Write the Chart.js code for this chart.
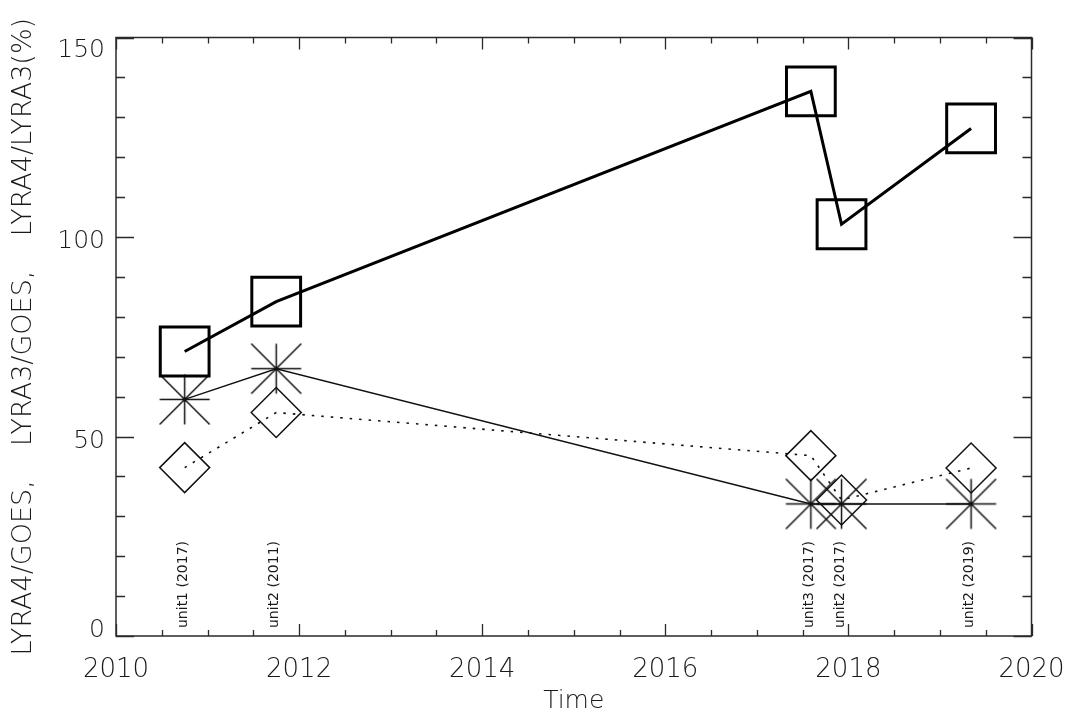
<!DOCTYPE html>
<html>
<head>
<meta charset="utf-8">
<script src="https://cdn.jsdelivr.net/npm/chart.js@4/dist/chart.umd.min.js"></script>
<style>
  html, body { margin: 0; padding: 0; background: #fff; }
  canvas { display: block; }
</style>
</head>
<body>
<canvas id="c" width="1069" height="712"></canvas>
<script>
// Observation dates (decimal years) and the unit / calibration year of each campaign
const years = [2010.75, 2011.75, 2017.59, 2017.925, 2019.34];
const unitLabels = ['unit1 (2017)', 'unit2 (2011)', 'unit3 (2017)', 'unit2 (2017)', 'unit2 (2019)'];

// Ratios in percent
const lyra4OverLyra3 = [71.3, 83.8, 136.5, 103.2, 127.2];
const lyra4OverGoes = [59.3, 67.0, 33.1, 33.1, 33.1];
const lyra3OverGoes = [42.2, 56.0, 45.2, 34.1, 42.1];

// Axis ticks
const xMajorTicks = [2010, 2012, 2014, 2016, 2018, 2020];
const xTickLabels = ['2010', '2012', '2014', '2016', '2018', '2020'];
const xMinorStep = 0.5;
const yMajorTicks = [0, 50, 100, 150];
const yTickLabels = ['0', '50', '100', '150'];
const yMinorStep = 10;

const INK = '#111';
const TEXT = '#1a1a1a';
const FONT = '"DejaVu Sans", "Liberation Sans", sans-serif';
const WEIGHT = '200';

const toPoints = vals => years.map((yr, i) => ({ x: yr, y: vals[i] }));

// Eight-armed asterisk marker
function makeAsterisk(arm, width) {
  const size = Math.ceil(arm * 2 + width * 2);
  const cv = document.createElement('canvas');
  cv.width = size; cv.height = size;
  const g = cv.getContext('2d');
  const c = size / 2;
  g.strokeStyle = INK;
  g.lineWidth = width;
  g.beginPath();
  g.moveTo(c - arm, c); g.lineTo(c + arm, c);
  g.moveTo(c, c - arm); g.lineTo(c, c + arm);
  g.moveTo(c - arm, c - arm); g.lineTo(c + arm, c + arm);
  g.moveTo(c - arm, c + arm); g.lineTo(c + arm, c - arm);
  g.stroke();
  return cv;
}
const asterisk = makeAsterisk(25, 1.5);

// Box frame with inward ticks on all four sides, tick labels and unit annotations
const framePlugin = {
  id: 'frame',
  afterDraw(chart) {
    const { ctx, chartArea: a, scales: { x, y } } = chart;
    ctx.save();
    ctx.strokeStyle = '#2a2a2a';
    ctx.lineWidth = 1.5;
    ctx.strokeRect(a.left, a.top, a.right - a.left, a.bottom - a.top);

    ctx.lineWidth = 1.3;
    ctx.beginPath();
    const xMin = x.min, xMax = x.max;
    for (let k = 0; xMin + k * xMinorStep <= xMax + 1e-9; k++) {
      const v = xMin + k * xMinorStep;
      const major = xMajorTicks.some(t => Math.abs(t - v) < 1e-6);
      const len = major ? 12 : 6;
      const px = Math.round(x.getPixelForValue(v)) + 0.5;
      ctx.moveTo(px, a.bottom); ctx.lineTo(px, a.bottom - len);
      ctx.moveTo(px, a.top); ctx.lineTo(px, a.top + len);
    }
    const yMin = y.min, yMax = y.max;
    for (let k = 0; yMin + k * yMinorStep <= yMax + 1e-9; k++) {
      const v = yMin + k * yMinorStep;
      const major = yMajorTicks.some(t => Math.abs(t - v) < 1e-6);
      const len = major ? 18 : 9;
      const py = Math.round(y.getPixelForValue(v)) + 0.5;
      ctx.moveTo(a.left, py); ctx.lineTo(a.left + len, py);
      ctx.moveTo(a.right, py); ctx.lineTo(a.right - len, py);
    }
    ctx.stroke();

    // Tick labels
    ctx.fillStyle = TEXT;
    ctx.font = WEIGHT + ' 26px ' + FONT;
    ctx.textAlign = 'center';
    ctx.textBaseline = 'alphabetic';
    xMajorTicks.forEach((v, i) => {
      ctx.fillText(xTickLabels[i], x.getPixelForValue(v), a.bottom + 41);
    });
    ctx.font = WEIGHT + ' 25px ' + FONT;
    ctx.textAlign = 'right';
    yMajorTicks.forEach((v, i) => {
      const py = y.getPixelForValue(v);
      const base = Math.min(Math.max(py + 11, a.top + 19), a.bottom + 1);
      ctx.fillText(yTickLabels[i], a.left - 11, base);
    });

    // Unit annotations, written upwards from the bottom axis
    ctx.font = '14px ' + FONT;
    ctx.textAlign = 'left';
    years.forEach((yr, i) => {
      ctx.save();
      ctx.translate(x.getPixelForValue(yr) + 2, a.bottom - 8);
      ctx.rotate(-Math.PI / 2);
      ctx.fillText(unitLabels[i], 0, 0);
      ctx.restore();
    });
    ctx.restore();
  }
};

new Chart(document.getElementById('c'), {
  type: 'line',
  data: {
    datasets: [
      {
        label: 'LYRA4/LYRA3',
        data: toPoints(lyra4OverLyra3),
        borderColor: '#000',
        borderWidth: 3,
        pointStyle: 'rect',
        pointRadius: 34.5,
        pointBorderWidth: 3,
        pointBorderColor: '#000',
        pointBackgroundColor: 'rgba(0,0,0,0)',
        tension: 0
      },
      {
        label: 'LYRA4/GOES',
        data: toPoints(lyra4OverGoes),
        borderColor: INK,
        borderWidth: 1.5,
        pointStyle: asterisk,
        pointRadius: 25,
        tension: 0
      },
      {
        label: 'LYRA3/GOES',
        data: toPoints(lyra3OverGoes),
        borderColor: INK,
        borderWidth: 1.6,
        borderDash: [2.5, 7],
        pointStyle: 'rectRot',
        pointRadius: 25,
        pointBorderWidth: 1.5,
        pointBorderColor: INK,
        pointBackgroundColor: 'rgba(0,0,0,0)',
        tension: 0
      }
    ]
  },
  options: {
    responsive: false,
    animation: false,
    devicePixelRatio: 1,
    events: [],
    layout: { padding: { left: 0, right: 36, top: 37, bottom: 0 } },
    plugins: { legend: { display: false }, tooltip: { enabled: false } },
    scales: {
      x: {
        type: 'linear',
        min: 2010,
        max: 2020,
        ticks: { display: false },
        grid: { display: false, drawTicks: false },
        border: { display: false },
        title: {
          display: true,
          text: 'Time',
          color: TEXT,
          font: { family: FONT, size: 25, weight: WEIGHT, lineHeight: 1 },
          padding: { top: 53, bottom: -2 }
        }
      },
      y: {
        type: 'linear',
        min: 0,
        max: 150,
        ticks: { display: false },
        grid: { display: false, drawTicks: false },
        border: { display: false },
        title: {
          display: true,
          text: 'LYRA4/GOES,    LYRA3/GOES,    LYRA4/LYRA3(%)',
          color: TEXT,
          font: { family: FONT, size: 27, weight: WEIGHT, lineHeight: 1 },
          padding: { top: 10, bottom: 79 }
        }
      }
    }
  },
  plugins: [framePlugin]
});
</script>
</body>
</html>
